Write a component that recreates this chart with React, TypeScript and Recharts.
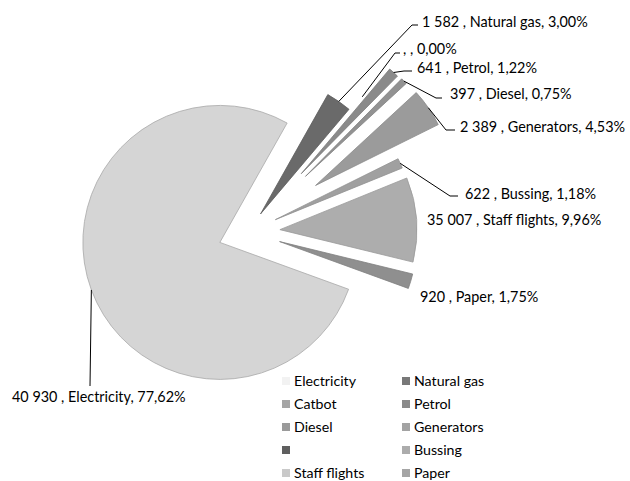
import React from 'react';
import { PieChart, Pie, Cell, Sector, Legend } from 'recharts';

// Series, in the order Excel draws them (clockwise)
const CATEGORIES = ['Electricity', 'Natural gas', 'Catbot', 'Petrol', 'Diesel', 'Generators', '', 'Bussing', 'Staff flights', 'Paper'];
const SHARES = [77.62, 3.0, 0, 1.22, 0.75, 4.53, 0, 1.18, 9.96, 1.75];
const VALUE_TEXT = ['40 930', '1 582', '', '641', '397', '2 389', '', '622', '35 007', '920'];
const LABEL_NAMES = ['Electricity', 'Natural gas', '', 'Petrol', 'Diesel', 'Generators', '', 'Bussing', 'Staff flights', 'Paper'];
const SHOW_LABEL = [true, true, true, true, true, true, false, true, true, true];

// styles
const SLICE_COLORS = ['#d5d5d5', '#6a6a6a', '#a5a5a5', '#8a8a8a', '#929292', '#9b9b9b', '#5f5f5f', '#a0a0a0', '#adadad', '#8f8f8f'];
const SLICE_STROKES = ['#a8a8a8', '#5a5a5a', '#909090', '#7a7a7a', '#828282', '#8a8a8a', '#505050', '#909090', '#9a9a9a', '#808080'];
const LEGEND_COLORS = ['#f2f2f2', '#787878', '#a5a5a5', '#8a8a8a', '#9a9a9a', '#a3a3a3', '#5f5f5f', '#acacac', '#c9c9c9', '#a5a5a5'];
const EXPLODE = [30, 22, 40, 79, 80, 82, 0, 30, 32, 33];
// leader line bends and text anchor for each data label
const LABEL_LAYOUT: { leader: number[][]; text: number[] }[] = [
  { leader: [[90, 386]], text: [12, 396] },
  { leader: [[412, 25], [418, 25]], text: [422, 21] },
  { leader: [[395, 53], [400, 53]], text: [403, 48] },
  { leader: [[404, 71], [412, 71]], text: [417, 67] },
  { leader: [[436, 98], [442, 98]], text: [450, 93] },
  { leader: [[446, 130], [455, 130]], text: [460, 126] },
  { leader: [], text: [0, 0] },
  { leader: [[450, 196], [458, 196]], text: [465, 193] },
  { leader: [], text: [427, 219] },
  { leader: [], text: [420, 296] },
];

const FONT = "Lato, 'Open Sans', sans-serif";

const data = CATEGORIES.map((name, i) => ({ name, value: SHARES[i] }));

const idxOf = (props: any) =>
  typeof props.index === 'number' ? props.index : CATEGORIES.indexOf(props.payload?.name ?? props.name);

const pct = (v: number) => v.toFixed(2).replace('.', ',') + '%';

const ExplodedSector = (props: any) => {
  const i = idxOf(props);
  const off = EXPLODE[i] ?? 0;
  const rad = (-props.midAngle * Math.PI) / 180;
  return (
    <Sector
      {...props}
      cx={props.cx + off * Math.cos(rad)}
      cy={props.cy + off * Math.sin(rad)}
    />
  );
};

const renderLabel = (props: any) => {
  const i = idxOf(props);
  if (!SHOW_LABEL[i]) return null;
  const { cx, cy, midAngle, outerRadius } = props;
  const rad = (-midAngle * Math.PI) / 180;
  const r = outerRadius + EXPLODE[i];
  const sx = cx + r * Math.cos(rad);
  const sy = cy + r * Math.sin(rad);
  const lay = LABEL_LAYOUT[i];
  const pts = [[sx, sy], ...lay.leader].map((p) => p.join(',')).join(' ');
  return (
    <g key={'lbl' + i}>
      {lay.leader.length > 0 && <polyline points={pts} fill="none" stroke="#000" strokeWidth={1} />}
      <text x={lay.text[0]} y={lay.text[1]} dominantBaseline="central" fontSize={14.4} fill="#000" fontFamily={FONT}>
        {`${VALUE_TEXT[i]} , ${LABEL_NAMES[i]}, ${pct(SHARES[i])}`}
      </text>
    </g>
  );
};

const LegendBox = () => (
  <div style={{ display: 'grid', gridTemplateColumns: '120px 120px', fontFamily: FONT, fontSize: 14.2, color: '#000' }}>
    {CATEGORIES.map((name, i) => (
      <div key={i} style={{ display: 'flex', alignItems: 'center', height: 23 }}>
        <span style={{ width: 8, height: 8, background: LEGEND_COLORS[i], marginRight: 4, flexShrink: 0 }} />
        <span>{name}</span>
      </div>
    ))}
  </div>
);

export default function App() {
  return (
    <div style={{ position: 'absolute', left: 0, top: 0, width: 630, height: 481, background: '#fff' }}>
      <PieChart width={630} height={481} margin={{ top: 0, right: 0, bottom: 0, left: 0 }}>
        <Pie
          data={data}
          dataKey="value"
          nameKey="name"
          cx={248}
          cy={232}
          outerRadius={137}
          startAngle={-20}
          endAngle={-380}
          paddingAngle={0}
          shape={ExplodedSector}
          label={renderLabel}
          labelLine={false}
          isAnimationActive={false}
        >
          {data.map((d, i) => (
            <Cell key={i} fill={SLICE_COLORS[i]} stroke={SLICE_STROKES[i]} strokeWidth={0.8} />
          ))}
        </Pie>
        <Legend
          content={<LegendBox />}
          wrapperStyle={{ position: 'absolute', left: 282, top: 369, width: 260 }}
        />
      </PieChart>
    </div>
  );
}
